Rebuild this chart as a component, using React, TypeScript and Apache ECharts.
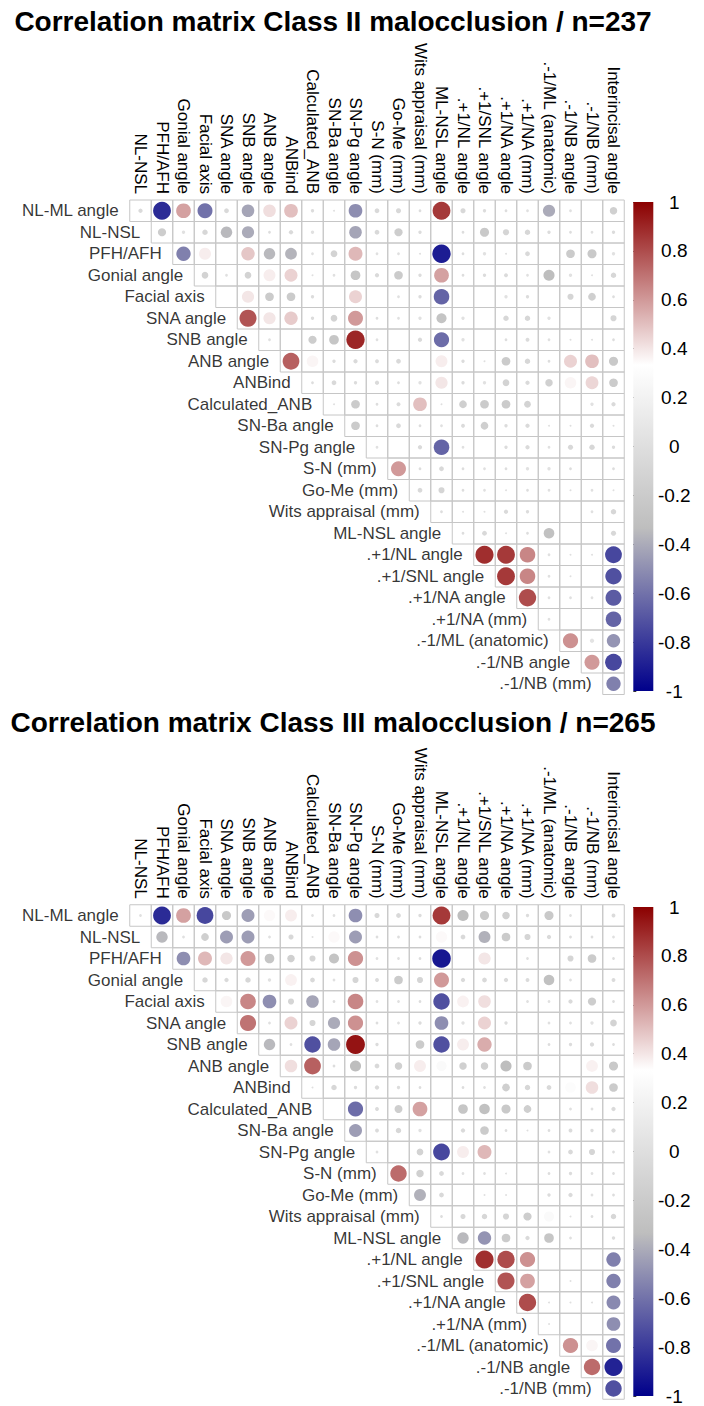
import React, { useEffect, useRef } from "react";
import * as echarts from "echarts";

const FONT = "'Liberation Sans', Arial, Helvetica, sans-serif";

const rowNames = [
  "NL-ML angle", "NL-NSL", "PFH/AFH", "Gonial angle", "Facial axis", "SNA angle", "SNB angle",
  "ANB angle", "ANBind", "Calculated_ANB", "SN-Ba angle", "SN-Pg angle", "S-N (mm)", "Go-Me (mm)",
  "Wits appraisal (mm)", "ML-NSL angle", ".+1/NL angle", ".+1/SNL angle", ".+1/NA angle",
  ".+1/NA (mm)", ".-1/ML (anatomic)", ".-1/NB angle", ".-1/NB (mm)",
];
const colNames = [
  "NL-NSL", "PFH/AFH", "Gonial angle", "Facial axis", "SNA angle", "SNB angle", "ANB angle",
  "ANBind", "Calculated_ANB", "SN-Ba angle", "SN-Pg angle", "S-N (mm)", "Go-Me (mm)",
  "Wits appraisal (mm)", "ML-NSL angle", ".+1/NL angle", ".+1/SNL angle", ".+1/NA angle",
  ".+1/NA (mm)", ".-1/ML (anatomic)", ".-1/NB angle", ".-1/NB (mm)", "Interincisal angle",
];
const titles = [
  "Correlation matrix Class II malocclusion / n=237",
  "Correlation matrix Class III malocclusion / n=265",
];

// Upper triangle rows: row i holds columns i..22
const classIIValues: number[][] = [
  [-0.05, -0.85, 0.58, -0.6, -0.06, -0.42, 0.42, 0.5, -0.03, 0.01, -0.5, -0.06, -0.07, -0.02, 0.85, -0.07, -0.03, -0.02, 0.02, -0.4, 0.02, 0, -0.15],
  [-0.18, 0.03, -0.08, -0.35, -0.4, -0.02, -0.05, 0.03, 0.33, -0.42, -0.06, -0.18, -0.03, 0, -0.02, -0.22, -0.1, -0.08, -0.03, -0.02, 0.02, -0.03],
  [-0.55, 0.38, 0, 0.48, -0.35, -0.37, 0.02, -0.12, 0.52, 0.02, 0.02, -0.01, -0.9, -0.02, 0.03, -0.01, -0.06, 0, -0.2, -0.22, 0.03],
  [-0.12, 0.02, -0.12, 0.38, 0.45, 0.01, 0.02, -0.25, -0.05, -0.2, -0.03, 0.58, -0.02, -0.03, -0.04, 0.02, -0.33, 0.03, 0.01, -0.08],
  [0, 0.4, -0.2, -0.2, -0.03, 0, 0.45, 0, 0.02, -0.03, -0.65, 0, 0, 0.03, -0.03, 0, -0.1, -0.16, -0.02],
  [0.78, 0.4, 0.47, -0.03, -0.12, 0.6, -0.02, 0.02, 0.03, -0.27, 0.03, 0, -0.08, -0.08, 0.03, 0, 0, -0.1],
  [0.02, 0, -0.18, -0.25, 0.9, 0.02, 0, -0.05, -0.62, 0.03, 0, -0.02, -0.04, 0.02, -0.01, -0.01, -0.02],
  [0.75, 0.36, -0.03, -0.05, -0.04, -0.06, 0, 0.38, -0.03, 0.01, -0.2, -0.08, -0.02, 0.45, 0.5, -0.22],
  [-0.02, -0.06, -0.03, -0.05, -0.02, 0.03, 0.4, -0.03, 0.03, -0.12, -0.05, -0.15, 0.36, 0.44, -0.2],
  [0.01, -0.2, -0.02, -0.04, 0.5, 0.01, -0.16, -0.2, -0.2, -0.12, 0, 0, 0.03, -0.05],
  [-0.2, -0.02, -0.06, -0.02, 0.02, -0.04, -0.16, -0.03, -0.05, 0.01, -0.01, -0.05, -0.01],
  [0.02, 0, -0.05, -0.65, 0.02, 0, -0.03, -0.05, 0.02, -0.07, -0.08, -0.03],
  [0.6, -0.02, -0.06, -0.02, 0.02, -0.02, 0.03, 0.03, -0.02, 0, -0.02],
  [-0.06, -0.1, -0.02, 0.02, 0.01, -0.02, 0.02, -0.01, 0.02, 0.01],
  [-0.02, 0.01, 0.01, -0.05, -0.03, 0, 0, 0.02, -0.08],
  [-0.02, -0.06, 0.01, -0.02, -0.3, 0, 0, -0.07],
  [0.88, 0.85, 0.65, 0.02, 0.01, 0.01, -0.75],
  [0.85, 0.65, 0.02, 0.01, 0, -0.72],
  [0.8, 0.02, 0.02, 0.02, -0.68],
  [0.02, 0, 0, -0.65],
  [0.62, 0.05, -0.48],
  [0.6, -0.75],
  [-0.55],
];

const classIIIValues: number[][] = [
  [0.02, -0.85, 0.58, -0.75, -0.22, -0.45, 0.35, 0.38, 0.02, 0.02, -0.5, -0.07, -0.06, -0.03, 0.85, -0.33, -0.22, -0.15, -0.03, -0.22, 0.02, 0, -0.04],
  [-0.35, 0.02, -0.16, -0.45, -0.45, 0.02, -0.07, 0.01, 0.35, -0.45, -0.02, -0.02, -0.02, 0.35, -0.06, -0.38, -0.2, -0.1, -0.05, -0.02, -0.02, 0.02],
  [-0.5, 0.52, 0.4, 0.6, -0.25, -0.15, -0.1, -0.27, 0.62, 0.02, 0.02, -0.02, -0.92, 0, 0.4, 0, 0.02, 0, -0.1, -0.2, -0.02],
  [-0.08, -0.05, -0.08, 0.03, 0.37, -0.06, 0.02, -0.1, -0.04, -0.2, -0.1, 0.6, -0.05, -0.06, -0.05, -0.04, -0.3, 0.02, 0, -0.04],
  [0.36, 0.65, -0.5, -0.1, -0.42, -0.02, 0.65, 0.02, 0.02, -0.02, -0.72, 0.37, 0.42, 0, 0.02, 0.02, -0.05, -0.18, -0.02],
  [0.7, 0.02, 0.45, -0.1, -0.4, 0.62, -0.02, 0.02, -0.03, -0.5, 0.03, 0.45, -0.03, 0, 0.02, 0.02, 0.03, -0.12],
  [-0.35, 0.02, -0.72, -0.42, 0.95, -0.03, 0, -0.2, -0.72, 0.38, 0.55, 0, 0, -0.02, -0.03, -0.05, -0.02],
  [0.42, 0.75, -0.02, -0.33, -0.06, -0.15, 0.38, 0.28, -0.15, -0.15, -0.33, -0.2, 0, 0.33, 0.37, -0.22],
  [0.01, -0.08, -0.03, -0.05, -0.03, -0.02, 0, -0.02, 0.02, -0.16, -0.08, -0.06, 0.3, 0.42, -0.2],
  [0, -0.62, -0.04, -0.17, 0.58, 0, -0.25, -0.3, -0.22, -0.16, 0, 0.02, 0.02, -0.05],
  [-0.45, -0.04, -0.08, 0.03, 0, -0.05, -0.2, -0.02, -0.01, -0.02, -0.04, -0.03, -0.05],
  [0.02, 0, -0.12, -0.75, 0.38, 0.52, 0, 0, 0.02, -0.06, -0.1, -0.02],
  [0.72, -0.15, -0.06, 0.02, 0.02, 0.01, 0, -0.02, -0.03, 0.02, -0.02],
  [-0.38, -0.06, 0, 0.01, 0.01, 0, -0.03, -0.05, 0.02, -0.02],
  [-0.02, -0.07, -0.08, -0.1, -0.18, 0.28, 0.01, -0.02, -0.08],
  [-0.35, -0.48, -0.2, -0.05, -0.25, 0.02, 0, -0.03],
  [0.88, 0.8, 0.62, 0, 0, 0, -0.55],
  [0.78, 0.58, 0, 0.01, 0, -0.55],
  [0.8, 0.01, 0.01, 0.01, -0.52],
  [0.01, 0, 0, -0.5],
  [0.62, 0.36, -0.6],
  [0.72, -0.88],
  [-0.72],
];

// palette: darkblue -> grey -> white -> darkred
const paletteValues = [-1, -1 / 3, 1 / 3, 1];
const paletteColors = [
  [0, 0, 139],
  [190, 190, 190],
  [255, 255, 255],
  [139, 0, 0],
];

function corrColor(r: number): string {
  const v = Math.max(-1, Math.min(1, r));
  for (let k = 0; k < paletteValues.length - 1; k++) {
    const a = paletteValues[k];
    const b = paletteValues[k + 1];
    if (v >= a && v <= b) {
      const t = (v - a) / (b - a);
      const c0 = paletteColors[k];
      const c1 = paletteColors[k + 1];
      const c = c0.map((x, idx) => Math.round(x + (c1[idx] - x) * t));
      return `rgb(${c[0]},${c[1]},${c[2]})`;
    }
  }
  return "#fff";
}

function toCells(rows: number[][]) {
  const out: number[][] = [];
  rows.forEach((row, i) => row.forEach((r, k) => out.push([i + k, i, r])));
  return out;
}

const CELL = 21.5;
const N = 23;
const GRID_LEFT = 129.75;
const GRID_TOPS = [200, 904.75];
const BAR_LEFT = 633.3;
const BAR_W = 20;
const BAR_TOPS = [202, 907];
const BAR_H = 489;
const TITLE_YS = [21, 722];
const TITLE_X = 333;

export default function App() {
  const ref = useRef<HTMLDivElement>(null);
  useEffect(() => {
    if (!ref.current) return;
    const chart = echarts.init(ref.current, undefined, { renderer: "svg" });

    const cellRender = (params: any, api: any) => {
      const j = api.value(0);
      const i = api.value(1);
      const r = api.value(2);
      const c = api.coord([j, i]);
      const sz = api.size([1, 1]);
      const w = sz[0];
      const h = sz[1];
      const rad = 0.45 * Math.sqrt(Math.abs(r)) * Math.min(w, h);
      return {
        type: "group",
        children: [
          {
            type: "rect",
            shape: { x: c[0] - w / 2, y: c[1] - h / 2, width: w, height: h },
            style: { fill: "none", stroke: "#c6c6c6", lineWidth: 1 },
          },
          {
            type: "circle",
            shape: { cx: c[0], cy: c[1], r: rad },
            style: { fill: corrColor(r) },
          },
        ],
      };
    };

    const barRender = (params: any, api: any) => {
      const tl = api.coord([0, 1]);
      const br = api.coord([1, -1]);
      return {
        type: "rect",
        shape: { x: tl[0], y: tl[1], width: br[0] - tl[0], height: br[1] - tl[1] },
        style: {
          fill: new echarts.graphic.LinearGradient(0, 0, 0, 1, [
            { offset: 0, color: "rgb(139,0,0)" },
            { offset: 1 / 3, color: "rgb(255,255,255)" },
            { offset: 2 / 3, color: "rgb(190,190,190)" },
            { offset: 1, color: "rgb(0,0,139)" },
          ]),
        },
      };
    };

    const matrices = [classIIValues, classIIIValues];
    const grids: any[] = [];
    const xAxes: any[] = [];
    const yAxes: any[] = [];
    const series: any[] = [];

    matrices.forEach((m, idx) => {
      grids.push({ left: GRID_LEFT, top: GRID_TOPS[idx], width: CELL * N, height: CELL * N });
      xAxes.push({
        gridIndex: idx,
        type: "category",
        data: colNames,
        position: "top",
        axisLine: { show: false },
        axisTick: { show: false },
        splitLine: { show: false },
        axisLabel: { rotate: 90, interval: 0, margin: 6, fontSize: 17, color: "#000", fontFamily: FONT },
      });
      yAxes.push({ gridIndex: idx, type: "category", data: rowNames, inverse: true, show: false });
      series.push({
        type: "custom",
        xAxisIndex: idx,
        yAxisIndex: idx,
        renderItem: cellRender,
        data: toCells(m),
        encode: { x: 0, y: 1 },
        silent: true,
      });
      series.push({
        type: "scatter",
        xAxisIndex: idx,
        yAxisIndex: idx,
        symbol: "rect",
        symbolSize: CELL,
        itemStyle: { color: "rgba(0,0,0,0)" },
        silent: true,
        data: rowNames.map((n, i) => [i, i]),
        label: {
          show: true,
          position: "left",
          distance: 11,
          fontSize: 17,
          color: "#000",
          fontFamily: FONT,
          formatter: (p: any) => rowNames[p.dataIndex],
        },
      });
    });

    [0, 1].forEach((idx) => {
      const gi = 2 + idx;
      grids.push({ left: BAR_LEFT, top: BAR_TOPS[idx], width: BAR_W, height: BAR_H });
      xAxes.push({ gridIndex: gi, type: "value", min: 0, max: 1, show: false });
      yAxes.push({
        gridIndex: gi,
        type: "value",
        min: -1,
        max: 1,
        interval: 0.2,
        position: "right",
        axisLine: { show: false },
        axisTick: { show: true, length: 3, lineStyle: { color: "#333" } },
        splitLine: { show: false },
        axisLabel: {
          margin: 21,
          align: "center",
          fontSize: 19,
          color: "#000",
          fontFamily: FONT,
          formatter: (v: number) => String(Math.round(v * 10) / 10),
        },
      });
      series.push({
        type: "custom",
        xAxisIndex: gi,
        yAxisIndex: gi,
        renderItem: barRender,
        data: [[0, 1]],
        silent: true,
      });
    });

    chart.setOption({
      animation: false,
      backgroundColor: "#fff",
      grid: grids,
      xAxis: xAxes,
      yAxis: yAxes,
      series,
      graphic: titles.map((t, i) => ({
        type: "text",
        x: TITLE_X,
        y: TITLE_YS[i],
        style: {
          text: t,
          fill: "#000",
          font: `bold 28px ${FONT}`,
          textAlign: "center",
          textVerticalAlign: "middle",
          verticalAlign: "middle",
        },
      })),
    });
    return () => chart.dispose();
  }, []);
  return (
    <div
      ref={ref}
      style={{ position: "absolute", left: 0, top: 0, width: 704, height: 1406, background: "#fff" }}
    />
  );
}
